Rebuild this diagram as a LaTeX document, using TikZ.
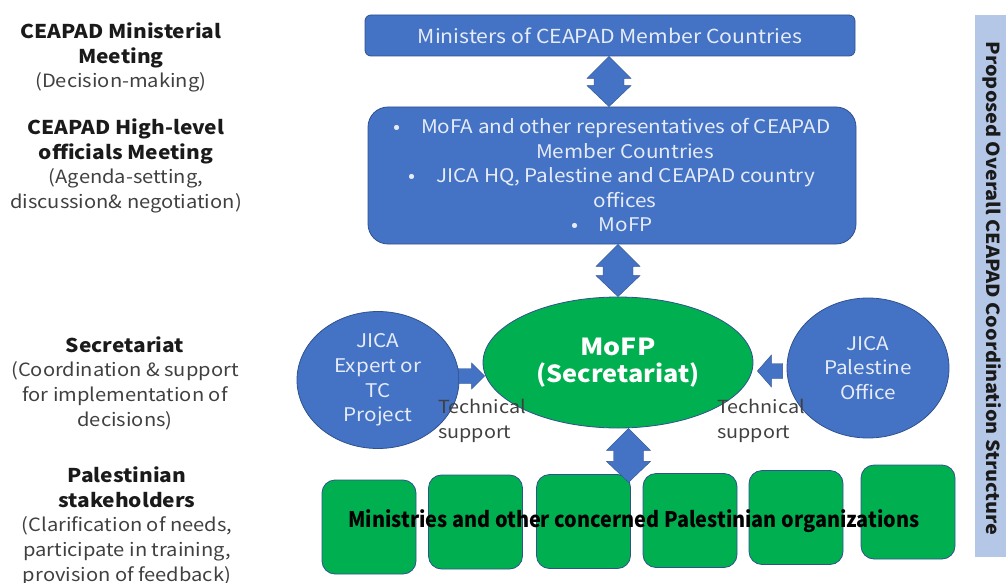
\documentclass[tikz,border=0pt]{standalone}
\usepackage{fontspec}
\setmainfont[FakeStretch=1.1]{Noto Sans CJK JP}
\usepackage{graphicx}
\usetikzlibrary{shapes.geometric,calc}
\definecolor{pblue}{HTML}{4472C4}
\definecolor{pborder}{HTML}{2F528F}
\definecolor{pgreen}{HTML}{00B050}
\definecolor{pbar}{HTML}{B4C7E7}
\definecolor{ptxt}{HTML}{E6ECF7}
\definecolor{dark}{HTML}{1A1A1A}
\definecolor{gray4}{HTML}{404040}
\tikzset{
  bluebox/.style={draw=pborder, line width=0.8pt, fill=pblue, text=ptxt, align=center, inner sep=0pt},
  blueell/.style={ellipse, draw=pborder, line width=0.8pt, fill=pblue, text=ptxt, align=center, inner sep=0pt},
  greenbox/.style={draw=pborder, line width=0.8pt, fill=pgreen, rounded corners=13pt, minimum width=94pt, minimum height=94pt, inner sep=0pt},
  lefttxt/.style={align=center, inner sep=0pt, text=gray4, font=\fontsize{18.3}{24.6}\selectfont},
  fatarrow/.style={fill=pblue, draw=pborder, line width=0.4pt, line join=miter},
  tslabel/.style={align=left, inner sep=0pt, anchor=west, text=gray4, font=\fontsize{18}{24.6}\selectfont}
}
% vertical double arrow between two points with the same x (first above second)
\newcommand{\vdblarrow}[2]{%
  \path[fatarrow] let \p1=(#1), \p2=(#2) in
   (\x1,\y1) -- (\x1+22pt,\y1-22pt) -- (\x1+15pt,\y1-22pt) -- (\x1+15pt,\y2+21pt) --
   (\x1+22pt,\y2+21pt) -- (\x1,\y2) -- (\x1-22pt,\y2+21pt) -- (\x1-15pt,\y2+21pt) --
   (\x1-15pt,\y1-22pt) -- (\x1-22pt,\y1-22pt) -- cycle;}
\begin{document}
\begin{tikzpicture}[x=1pt, y=-1pt]
\useasboundingbox (0,0) rectangle (1006,583);

% left column labels
\node[lefttxt] (l1) at (121,57.5) {\textbf{\color{dark}\fontsize{19}{24.6}\selectfont CEAPAD Ministerial}\\\textbf{\color{dark}\fontsize{19}{24.6}\selectfont Meeting}\\(Decision-making)};
\node[lefttxt] (l2) at (126,166) {\textbf{\color{dark}\fontsize{19}{24.6}\selectfont CEAPAD High-level}\\\textbf{\color{dark}\fontsize{19}{24.6}\selectfont officials Meeting}\\(Agenda-setting,\\discussion\& negotiation)};
\node[lefttxt] (l3) at (125,383) {\textbf{\color{dark}\fontsize{19}{24.6}\selectfont Secretariat}\\(Coordination \& support\\for implementation of\\decisions)};
\node[lefttxt] (l4) at (127,526) {\textbf{\color{dark}\fontsize{19}{24.6}\selectfont Palestinian}\\\textbf{\color{dark}\fontsize{19}{24.6}\selectfont stakeholders}\\(Clarification of needs,\\participate in training,\\provision of feedback)};

% top boxes
\node[bluebox, rounded corners=6pt, minimum width=490pt, minimum height=41pt, font=\fontsize{19.3}{24}\selectfont] (top) at (610,35.5) {Ministers of CEAPAD Member Countries};
\node[bluebox, rounded corners=20pt, minimum width=488pt, minimum height=137pt, font=\fontsize{18.8}{24.5}\selectfont] (hl) at (612,175.5)
 {\textbullet\hspace{1.1em}MoFA and other representatives of CEAPAD\\
  \hspace*{26pt}Member Countries\\
  \textbullet\hspace{1.1em}JICA HQ, Palestine and CEAPAD country\\
  \hspace*{26pt}offices\\
  \textbullet\hspace{1.1em}MoFP};

% ellipses
\node[blueell, minimum width=162pt, minimum height=137pt, font=\fontsize{18.8}{24.6}\selectfont] (jl) at (378,380) {JICA\\Expert or\\TC\\Project};
\node[blueell, minimum width=162pt, minimum height=140pt, font=\fontsize{18.8}{24.6}\selectfont] (jr) at (868,368) {JICA\\Palestine\\Office};
\node[blueell, fill=pgreen, text=white, minimum width=270pt, minimum height=131pt, font=\bfseries\fontsize{23.5}{26.5}\selectfont] (mofp) at (618,362.5) {\resizebox{75pt}{\height}{MoFP}\\\resizebox{163pt}{\height}{(Secretariat)}};

% green boxes
\node[greenbox] (g1) at (369,527) {};
\node[greenbox] (g2) at (475.5,522) {};
\node[greenbox] (g3) at (583.5,521.5) {};
\node[greenbox] (g4) at (690,520.5) {};
\node[greenbox] (g5) at (796,517.5) {};
\node[greenbox] (g6) at (908,512) {};
\node[inner sep=0pt, font=\bfseries\fontsize{21.5}{24}\selectfont, text=black] (orgs) at (634,521) {\resizebox{571pt}{\height}{Ministries and other concerned Palestinian organizations}};

% vertical double arrows
\vdblarrow{$(top.south)+(-1,0)$}{$(hl.north)+(-3,0)$}
\vdblarrow{hl.south -| mofp.north}{mofp.north}
\coordinate (a3end) at ($(mofp.south)+(10.5,54)$);
\vdblarrow{$(mofp.south)+(10.5,0)$}{a3end}

% horizontal technical support arrows
\path[fatarrow] let \p1=($(jl.east)+(-1,-4)$), \p2=($(mofp.west)+(2,0)$) in
  (\x1,\y1+7.5pt) -- (\x2-13pt,\y1+7.5pt) -- (\x2-13pt,\y1+13pt) -- (\x2,\y1) --
  (\x2-13pt,\y1-13pt) -- (\x2-13pt,\y1-7.5pt) -- (\x1,\y1-7.5pt) -- cycle;
\path[fatarrow] let \p1=($(jr.west)+(-4,3)$), \p2=($(mofp.east)+(4,0)$) in
  (\x1,\y1+7.5pt) -- (\x2+14pt,\y1+7.5pt) -- (\x2+14pt,\y1+16pt) -- (\x2,\y1) --
  (\x2+14pt,\y1-16pt) -- (\x2+14pt,\y1-7.5pt) -- (\x1,\y1-7.5pt) -- cycle;

\node[tslabel] (ts1) at (438,421) {Technical\\support};
\node[tslabel] (ts2) at (717,421) {Technical\\support};

% side bar
\node[fill=pbar, minimum width=31pt, minimum height=542pt, inner sep=0pt] (bar) at (990.5,286) {};
\node[rotate=-90, inner sep=0pt, font=\bfseries\fontsize{18}{24}\selectfont, text=dark] (bartxt) at (992,288.5) {Proposed Overall CEAPAD Coordination Structure};
\end{tikzpicture}
\end{document}
